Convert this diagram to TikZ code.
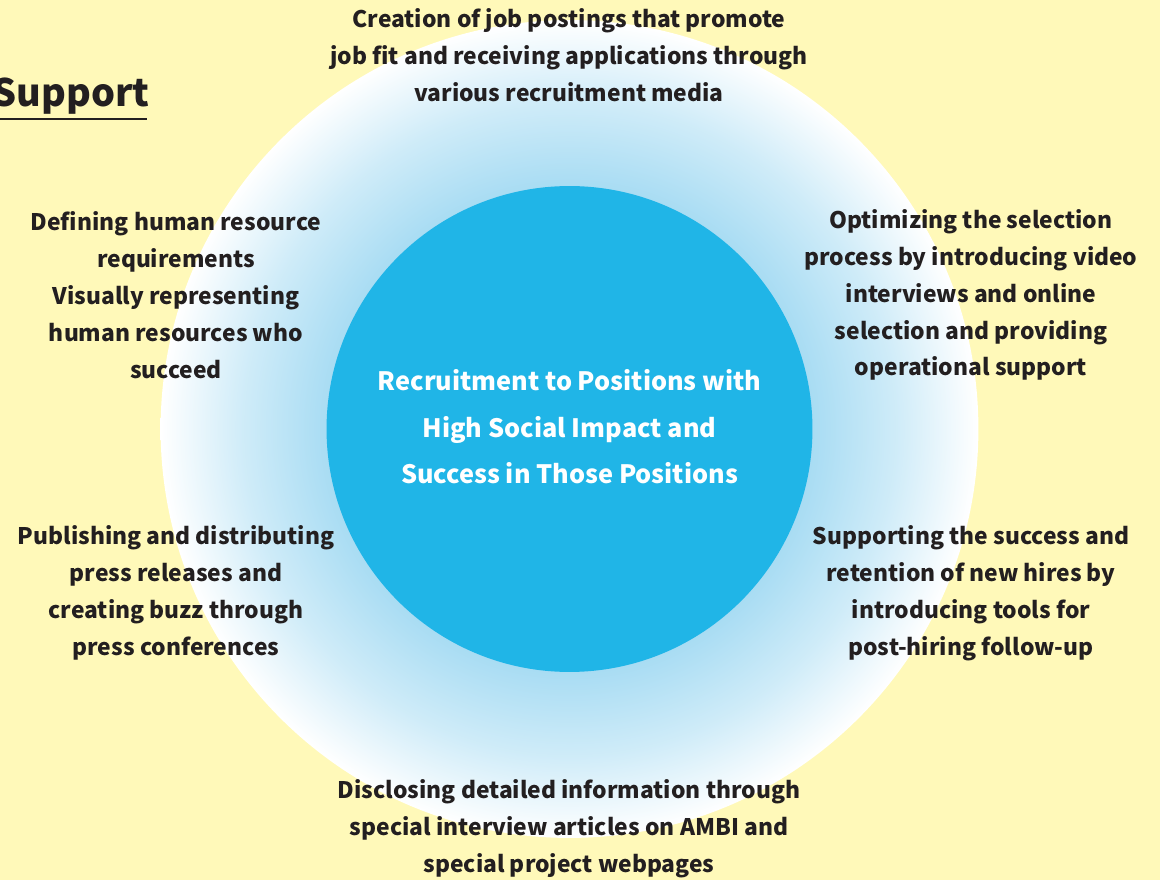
\documentclass[tikz,border=0pt]{standalone}
\usepackage{fontspec}
\setmainfont{Noto Sans CJK JP}
\usepackage{xcolor}
\usepackage{tikz}
\usetikzlibrary{positioning}
\definecolor{fond}{HTML}{FFF9B9}
\definecolor{bleu}{HTML}{20B5E7}
\definecolor{halo}{HTML}{A8DCF3}
\definecolor{encre}{HTML}{231F20}
% light blue around the core fading to white at the rim
\pgfdeclareradialshading{aureole}{\pgfpointorigin}{color(0bp)=(halo); color(14.8bp)=(halo); color(20bp)=(halo!55!white); color(25bp)=(white); color(50bp)=(white)}
\tikzset{
	bloc/.style={align=center,inner sep=0pt,text=encre,font=\bfseries\fontsize{13}{21}\selectfont},
	coeur/.style={align=center,inner sep=0pt,text=white,font=\bfseries\fontsize{14.4}{26.5}\selectfont}
}

\begin{document}
\begin{tikzpicture}[x=0.02cm,y=0.02cm]
	\def\cx{569.5}
	\def\cy{451}
	\useasboundingbox (0,0) rectangle (1160,880);
	\fill[fond] (0,0) rectangle (1160,880);
	
	%Cercles
	\node[circle,inner sep=0pt,minimum size=16.36cm,shading=aureole] (halo) at (\cx,\cy) {};
	\node[circle,inner sep=0pt,minimum size=9.72cm,fill=bleu] (centre) at (\cx,\cy) {};
	
	%Titre
	\node[anchor=base east,inner sep=0pt,text=encre,font=\bfseries\fontsize{21.5}{26}\selectfont] (titre) at (150,773) {Support};
	\draw[encre,line width=1.7pt] (0,761) -- (147,761);
	
	%Objectif
	\node[coeur] (but) at (\cx,453) {Recruitment to Positions with\\High Social Impact and\\Success in Those Positions};
	
	%Mesures autour
	\node[bloc] (haut) at (569,825) {Creation of job postings that promote\\job fit and receiving applications through\\various recruitment media};
	\node[bloc] (hautgauche) at (176,585) {Defining human resource\\requirements\\Visually representing\\human resources who\\succeed};
	\node[bloc] (hautdroite) at (971,585) {Optimizing the selection\\process by introducing video\\interviews and online\\selection and providing\\operational support};
	\node[bloc] (basgauche) at (176,287) {Publishing and distributing\\press releases and\\creating buzz through\\press conferences};
	\node[bloc] (basdroite) at (971,287) {Supporting the success and\\retention of new hires by\\introducing tools for\\post-hiring follow-up};
	\node[bloc] (bas) at (569,51) {Disclosing detailed information through\\special interview articles on AMBI and\\special project webpages};
\end{tikzpicture}
\end{document}
